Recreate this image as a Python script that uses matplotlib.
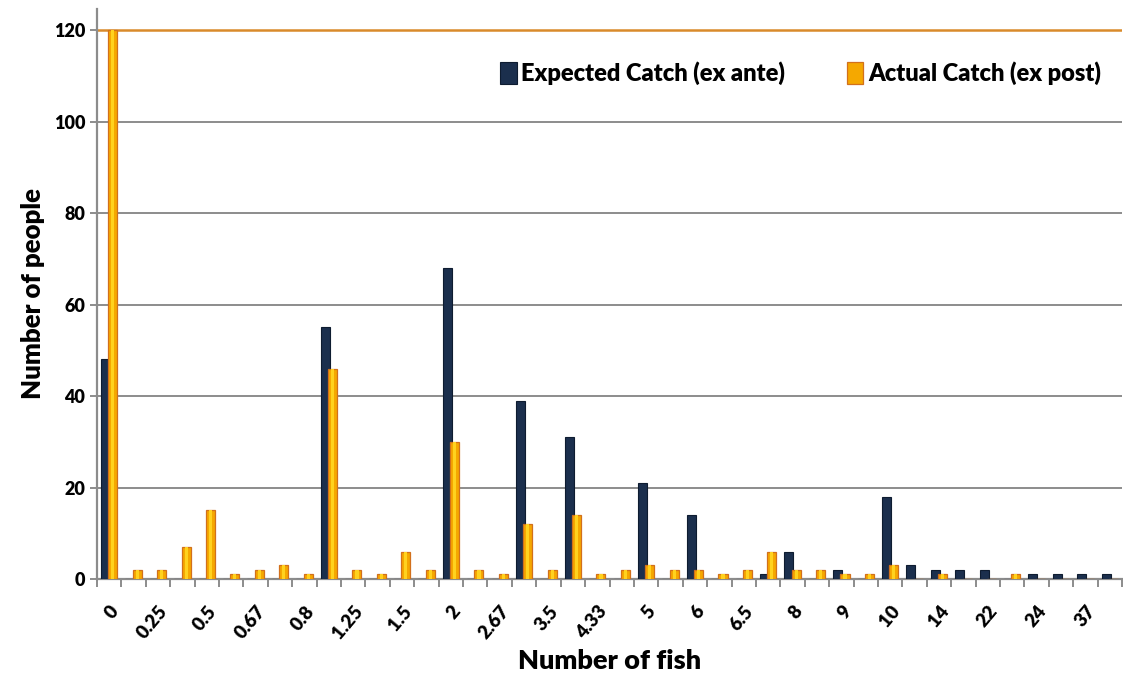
import numpy as np
import matplotlib; matplotlib.use("Agg")
import matplotlib.pyplot as plt

plt.rcParams['font.family'] = ['Lato', 'DejaVu Sans']

# categories (every other one is labelled on the axis)
fish = ["0", "0.2", "0.25", "0.33", "0.5", "0.6", "0.67", "0.75", "0.8", "1",
        "1.25", "1.33", "1.5", "1.75", "2", "2.5", "2.67", "3", "3.5", "4",
        "4.33", "4.5", "5", "5.5", "6", "6.25", "6.5", "7", "8", "8.5",
        "9", "9.5", "10", "12", "14", "20", "22", "23", "24", "30", "37", "50"]
expected = [48, 0, 0, 0, 0, 0, 0, 0, 0, 55,
            0, 0, 0, 0, 68, 0, 0, 39, 0, 31,
            0, 0, 21, 0, 14, 0, 0, 1, 6, 0,
            2, 0, 18, 3, 2, 2, 2, 0, 1, 1, 1, 1]
actual = [120, 2, 2, 7, 15, 1, 2, 3, 1, 46,
          2, 1, 6, 2, 30, 2, 1, 12, 2, 14,
          1, 2, 3, 2, 2, 1, 2, 6, 2, 2,
          1, 1, 3, 0, 1, 0, 0, 1, 0, 0, 0, 0]

NAVY, NAVY_E = "#1B2F4D", "#0E1C30"
ORANGE, ORANGE_E = "#F5A800", "#D2701C"
W = "heavy"

fig = plt.figure(figsize=(11.23, 6.75), dpi=100)
ax = fig.add_axes([0.0864, 0.1422, 0.9127, 0.8445])

x = np.arange(len(fish))
w = 0.37
ax.bar(x - 0.15, expected, w, color=NAVY, edgecolor=NAVY_E, lw=0.8, zorder=3,
       label="Expected Catch (ex ante)")
ax.bar(x + 0.15, actual, w, color=ORANGE, edgecolor=ORANGE_E, lw=0.9, zorder=4,
       label="Actual Catch (ex post)")
# lighter centre stripe for the 3D look
ax.bar(x + 0.15, actual, w * 0.35, color="#FFD21F", lw=0, zorder=5)

ax.set_xlim(-0.5, len(fish) - 0.5)
ax.set_ylim(0, 124.6)
ax.set_yticks(range(0, 121, 20))
for v in range(20, 101, 20):
    ax.axhline(v, color="#8C8C8C", lw=1.4, zorder=1)
ax.axhline(120, color="#D98A2B", lw=1.8, zorder=2)

ax.set_xticks(x[::2])
ax.set_xticklabels(fish[::2], rotation=50, ha="right", va="top",
                   rotation_mode="anchor", fontsize=13.5, fontweight=W)
ax.set_xticks(np.arange(-0.5, len(fish), 1), minor=True)
ax.tick_params(axis="x", which="major", length=0, pad=17)
ax.tick_params(axis="x", which="minor", length=6, color="#8C8C8C", width=1.4)
ax.tick_params(axis="y", length=5, color="#8C8C8C", width=1.4, labelsize=13)
for t in ax.get_yticklabels():
    t.set_fontweight(W)

for s in ["top", "right"]:
    ax.spines[s].set_visible(False)
for s in ["left", "bottom"]:
    ax.spines[s].set_color("#8C8C8C")
    ax.spines[s].set_linewidth(1.6)

ax.set_xlabel("Number of fish", fontsize=19.5, fontweight=W, labelpad=5)
ax.set_ylabel("Number of people", fontsize=18.5, fontweight=W, labelpad=6)

ax.legend(loc="upper right", bbox_to_anchor=(1.0, 0.945), ncol=2, frameon=False,
          prop={"size": 17, "weight": W}, handlelength=0.7, handleheight=1.1,
          handletextpad=0.2, columnspacing=2.6)

fig.savefig("out.png", dpi=100)
